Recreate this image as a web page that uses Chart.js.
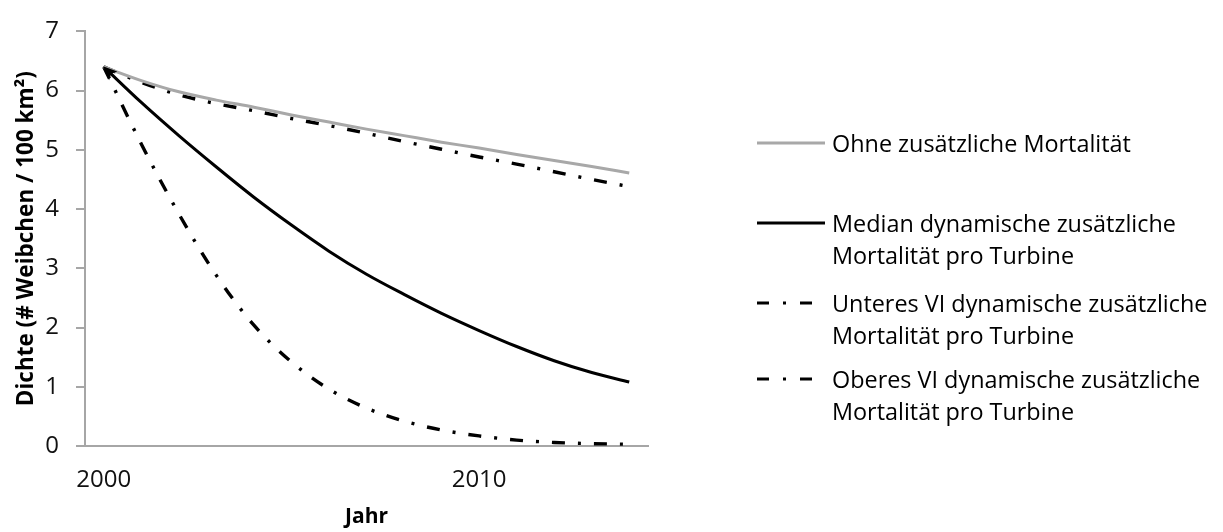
<!DOCTYPE html>
<html>
<head>
<meta charset="utf-8">
<script src="https://cdn.jsdelivr.net/npm/chart.js@4"></script>
<style>
  html, body { margin: 0; padding: 0; background: #fff; }
  #wrap { position: relative; width: 1223px; height: 532px; overflow: hidden; }
  #wrap canvas { position: absolute; left: 0; top: 0; }
  .lg { position: absolute; left: 757px; display: flex; align-items: flex-start;
        font-family: "Open Sans", sans-serif; font-size: 23.4px; line-height: 32px; color: #000; }
  .lg svg { width: 68px; height: 32px; flex: none; margin-right: 7px; }
  .lg span { white-space: nowrap; }
</style>
</head>
<body>
<div id="wrap">
  <canvas id="c" width="1223" height="532"></canvas>
</div>
<script>
// ---- data ----
const years = ['2000','2001','2002','2003','2004','2005','2006','2007','2008','2009','2010','2011','2012','2013','2014'];
const xTickLabels = ['2000', '2010'];
const ohne    = [6.40, 6.17, 5.98, 5.84, 5.72, 5.59, 5.47, 5.35, 5.24, 5.13, 5.03, 4.92, 4.82, 4.72, 4.61];
const unteres = [6.40, 6.14, 5.93, 5.78, 5.66, 5.53, 5.41, 5.28, 5.14, 5.01, 4.88, 4.76, 4.63, 4.50, 4.38];
const median  = [6.40, 5.80, 5.24, 4.71, 4.20, 3.73, 3.29, 2.90, 2.56, 2.24, 1.95, 1.68, 1.44, 1.24, 1.08];
const oberes  = [6.40, 5.10, 3.92, 2.88, 2.04, 1.42, 0.96, 0.64, 0.42, 0.27, 0.17, 0.10, 0.06, 0.04, 0.03];
const seriesNames = [
  'Ohne zusätzliche Mortalität',
  ['Median dynamische zusätzliche', 'Mortalität pro Turbine'],
  ['Unteres VI dynamische zusätzliche', 'Mortalität pro Turbine'],
  ['Oberes VI dynamische zusätzliche', 'Mortalität pro Turbine']
];
const yTitle = 'Dichte (# Weibchen / 100 km²)';
const xTitle = 'Jahr';

const GRAY = '#a8a8a8';
const AXIS = '#a6a6a6';
const DASH = [13, 13, 3, 13];

const arrowPlugin = {
  id: 'startArrow',
  afterDatasetsDraw(chart) {
    const meta = chart.getDatasetMeta(2);
    const p0 = meta.data[0], p1 = meta.data[1];
    const ang = Math.atan2(p0.y - p1.y, p0.x - p1.x);
    const ctx = chart.ctx;
    ctx.save();
    ctx.translate(p0.x, p0.y);
    ctx.rotate(ang);
    ctx.beginPath();
    ctx.moveTo(1, 0);
    ctx.lineTo(-13, -6);
    ctx.lineTo(-10, 0);
    ctx.lineTo(-13, 6);
    ctx.closePath();
    ctx.fillStyle = '#000';
    ctx.fill();
    ctx.restore();
  }
};

const FONT = '"Open Sans", sans-serif';

new Chart(document.getElementById('c'), {
  type: 'line',
  data: {
    labels: years,
    datasets: [
      { label: seriesNames[0], data: ohne, borderColor: GRAY, borderWidth: 3 },
      { label: seriesNames[2], data: unteres, borderColor: '#000', borderWidth: 3.4, borderDash: DASH },
      { label: seriesNames[1], data: median, borderColor: '#000', borderWidth: 3 },
      { label: seriesNames[3], data: oberes, borderColor: '#000', borderWidth: 3.4, borderDash: DASH }
    ]
  },
  options: {
    responsive: false,
    animation: false,
    devicePixelRatio: 1,
    layout: { padding: { top: 23, right: 575, bottom: 0, left: 0 } },
    elements: { point: { radius: 0 }, line: { borderCapStyle: 'butt', fill: false, cubicInterpolationMode: 'monotone' } },
    plugins: { legend: { display: false }, tooltip: { enabled: false } },
    scales: {
      x: {
        type: 'category',
        offset: true,
        grid: { display: true, drawOnChartArea: false, drawTicks: false, color: AXIS },
        border: { display: true, color: AXIS, width: 2 },
        ticks: {
          autoSkip: false, maxRotation: 0, padding: 20, color: '#111',
          font: { family: FONT, size: 24 },
          callback: function (v, i) { const l = years[i]; return xTickLabels.includes(l) ? l : ''; }
        },
        title: { display: true, text: xTitle, color: '#000', font: { family: FONT, size: 21, weight: 'bold' }, padding: { top: 0, bottom: 2 } },
        afterFit: s => { s.height = 86; }
      },
      y: {
        min: 0, max: 7,
        grid: { display: true, drawOnChartArea: false, drawTicks: true, tickLength: 9, color: AXIS, lineWidth: 2 },
        border: { display: true, color: AXIS, width: 2 },
        ticks: { stepSize: 1, padding: 17, color: '#111', font: { family: FONT, size: 24 } },
        title: { display: true, text: yTitle, color: '#000', font: { family: FONT, size: 22.5, weight: 'bold' }, padding: { top: 13, bottom: 0 } },
        afterFit: s => { s.width = 85; }
      }
    }
  },
  plugins: [arrowPlugin]
});

// ---- HTML legend (real text) ----
const legendItems = [
  { name: seriesNames[0], color: GRAY, dash: null, top: 127 },
  { name: seriesNames[1], color: '#000', dash: null, top: 207 },
  { name: seriesNames[2], color: '#000', dash: [12, 14, 3, 14], top: 287 },
  { name: seriesNames[3], color: '#000', dash: [12, 14, 3, 14], top: 363 }
];
const wrap = document.getElementById('wrap');
legendItems.forEach(it => {
  const d = document.createElement('div');
  d.className = 'lg';
  d.style.top = it.top + 'px';
  const ns = 'http://www.w3.org/2000/svg';
  const svg = document.createElementNS(ns, 'svg');
  svg.setAttribute('viewBox', '0 0 68 32');
  const ln = document.createElementNS(ns, 'line');
  ln.setAttribute('x1', 0); ln.setAttribute('x2', 68);
  ln.setAttribute('y1', 16); ln.setAttribute('y2', 16);
  ln.setAttribute('stroke', it.color);
  ln.setAttribute('stroke-width', 3);
  if (it.dash) ln.setAttribute('stroke-dasharray', it.dash.join(' '));
  svg.appendChild(ln);
  d.appendChild(svg);
  const sp = document.createElement('span');
  const lines = Array.isArray(it.name) ? it.name : [it.name];
  lines.forEach((t, i) => { if (i) sp.appendChild(document.createElement('br')); sp.appendChild(document.createTextNode(t)); });
  d.appendChild(sp);
  wrap.appendChild(d);
});
</script>
</body>
</html>
